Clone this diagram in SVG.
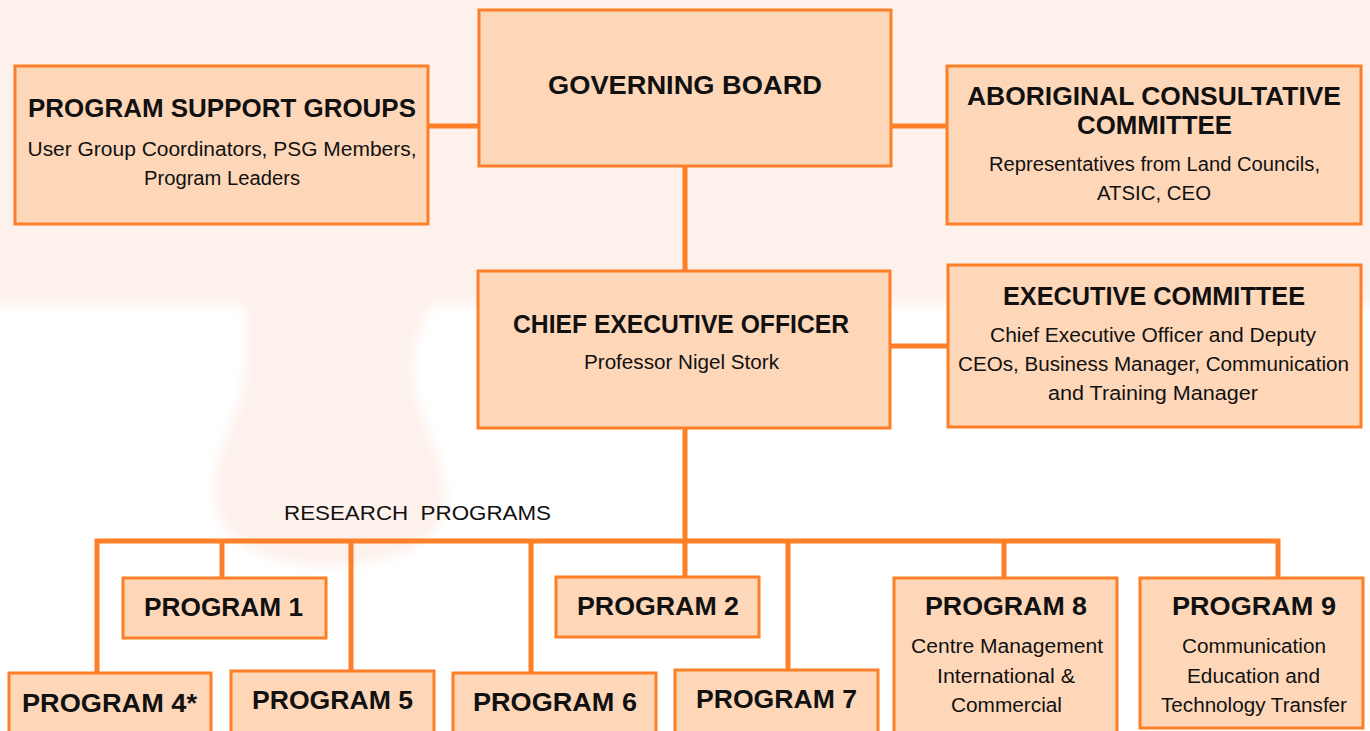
<svg xmlns="http://www.w3.org/2000/svg" width="1370" height="731" viewBox="0 0 1370 731">
<defs>
<filter id="soft" x="-10%" y="-10%" width="120%" height="120%">
<feGaussianBlur stdDeviation="6"/>
</filter>
<style>
.box{fill:#fed7b9;stroke:#fd7f27;stroke-width:3}
.ln{stroke:#fd7f27;stroke-width:5;fill:none}
.t{font-family:"Liberation Sans",Arial,sans-serif;font-weight:bold;font-size:25px;fill:#111;text-anchor:middle}
.s{font-family:"Liberation Sans",Arial,sans-serif;font-size:19.5px;fill:#111;text-anchor:middle}
</style>
</defs>
<rect x="0" y="0" width="1370" height="731" fill="#ffffff"/>
<g filter="url(#soft)" fill="#fdf1ec">
<rect x="-20" y="-20" width="1410" height="325"/>
<path d="M245,290 C245,340 250,360 240,400 C225,440 212,470 215,500 C220,545 270,565 330,565 C400,565 445,540 445,495 C445,460 420,420 415,390 C410,350 420,320 440,290 Z"/>
</g>
<g id="connectors">
<line class="ln" x1="429" y1="126" x2="478" y2="126"/>
<line class="ln" x1="892" y1="126" x2="946" y2="126"/>
<line class="ln" x1="685" y1="167" x2="685" y2="270"/>
<line class="ln" x1="891" y1="346" x2="947" y2="346"/>
<line class="ln" x1="685" y1="429" x2="685" y2="541"/>
<polyline class="ln" points="97,672 97,541 1278,541 1278,577"/>
<line class="ln" x1="222" y1="541" x2="222" y2="577"/>
<line class="ln" x1="351" y1="541" x2="351" y2="670"/>
<line class="ln" x1="531" y1="541" x2="531" y2="672"/>
<line class="ln" x1="685" y1="541" x2="685" y2="577"/>
<line class="ln" x1="788" y1="541" x2="788" y2="669"/>
<line class="ln" x1="1004" y1="541" x2="1004" y2="577"/>
</g>
<g id="governing-board">
<rect class="box" x="479" y="10" width="412" height="156"/>
<text class="t" x="685" y="94" textLength="274" lengthAdjust="spacingAndGlyphs">GOVERNING BOARD</text>
</g>
<g id="program-support-groups">
<rect class="box" x="15" y="66" width="413" height="158"/>
<text class="t" x="222" y="117" textLength="388" lengthAdjust="spacingAndGlyphs">PROGRAM SUPPORT GROUPS</text>
<text class="s" x="222" y="156" textLength="389" lengthAdjust="spacingAndGlyphs">User Group Coordinators, PSG Members,</text>
<text class="s" x="222" y="185" textLength="156" lengthAdjust="spacingAndGlyphs">Program Leaders</text>
</g>
<g id="aboriginal-consultative-committee">
<rect class="box" x="947" y="66" width="414" height="158"/>
<text class="t" x="1154" y="105" textLength="374" lengthAdjust="spacingAndGlyphs">ABORIGINAL CONSULTATIVE</text>
<text class="t" x="1154.5" y="134" textLength="155" lengthAdjust="spacingAndGlyphs">COMMITTEE</text>
<text class="s" x="1154.5" y="171" textLength="331" lengthAdjust="spacingAndGlyphs">Representatives from Land Councils,</text>
<text class="s" x="1154" y="200" textLength="114" lengthAdjust="spacingAndGlyphs">ATSIC, CEO</text>
</g>
<g id="chief-executive-officer">
<rect class="box" x="478" y="271" width="412" height="157"/>
<text class="t" x="681" y="333" textLength="336" lengthAdjust="spacingAndGlyphs">CHIEF EXECUTIVE OFFICER</text>
<text class="s" x="681.5" y="369" textLength="195" lengthAdjust="spacingAndGlyphs">Professor Nigel Stork</text>
</g>
<g id="executive-committee">
<rect class="box" x="948" y="265" width="413" height="162"/>
<text class="t" x="1154" y="305" textLength="302" lengthAdjust="spacingAndGlyphs">EXECUTIVE COMMITTEE</text>
<text class="s" x="1153" y="342" textLength="326" lengthAdjust="spacingAndGlyphs">Chief Executive Officer and Deputy</text>
<text class="s" x="1153.5" y="371" textLength="391" lengthAdjust="spacingAndGlyphs">CEOs, Business Manager, Communication</text>
<text class="s" x="1153" y="400" textLength="210" lengthAdjust="spacingAndGlyphs">and Training Manager</text>
</g>
<text class="s" x="417.5" y="520" style="font-size:21px;white-space:pre" textLength="267" lengthAdjust="spacingAndGlyphs">RESEARCH  PROGRAMS</text>
<g id="program-1">
<rect class="box" x="123" y="578" width="203" height="60"/>
<text class="t" x="223.5" y="616" textLength="159" lengthAdjust="spacingAndGlyphs">PROGRAM 1</text>
</g>
<g id="program-2">
<rect class="box" x="556" y="577" width="203" height="60"/>
<text class="t" x="658" y="615" textLength="162" lengthAdjust="spacingAndGlyphs">PROGRAM 2</text>
</g>
<g id="program-4">
<rect class="box" x="9" y="673" width="202" height="70"/>
<text class="t" x="109.5" y="712" textLength="175" lengthAdjust="spacingAndGlyphs">PROGRAM 4*</text>
</g>
<g id="program-5">
<rect class="box" x="231" y="671" width="203" height="72"/>
<text class="t" x="332.5" y="709" textLength="161" lengthAdjust="spacingAndGlyphs">PROGRAM 5</text>
</g>
<g id="program-6">
<rect class="box" x="453" y="673" width="203" height="70"/>
<text class="t" x="555" y="711" textLength="164" lengthAdjust="spacingAndGlyphs">PROGRAM 6</text>
</g>
<g id="program-7">
<rect class="box" x="675" y="670" width="203" height="73"/>
<text class="t" x="776.5" y="708" textLength="161" lengthAdjust="spacingAndGlyphs">PROGRAM 7</text>
</g>
<g id="program-8">
<rect class="box" x="894" y="578" width="223" height="165"/>
<text class="t" x="1006" y="615" textLength="162" lengthAdjust="spacingAndGlyphs">PROGRAM 8</text>
<text class="s" x="1007" y="653" textLength="192" lengthAdjust="spacingAndGlyphs">Centre Management</text>
<text class="s" x="1006" y="683" textLength="138" lengthAdjust="spacingAndGlyphs">International &amp;</text>
<text class="s" x="1006.5" y="712" textLength="111" lengthAdjust="spacingAndGlyphs">Commercial</text>
</g>
<g id="program-9">
<rect class="box" x="1140" y="578" width="223" height="150"/>
<text class="t" x="1254" y="615" textLength="164" lengthAdjust="spacingAndGlyphs">PROGRAM 9</text>
<text class="s" x="1254" y="653" textLength="144" lengthAdjust="spacingAndGlyphs">Communication</text>
<text class="s" x="1253.5" y="683" textLength="133" lengthAdjust="spacingAndGlyphs">Education and</text>
<text class="s" x="1254" y="712" textLength="186" lengthAdjust="spacingAndGlyphs">Technology Transfer</text>
</g>
</svg>
